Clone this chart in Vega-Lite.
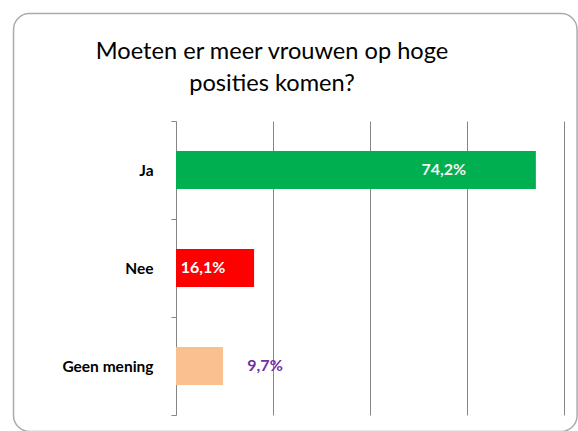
{
  "$schema": "https://vega.github.io/schema/vega-lite/v6.json",
  "width": 388,
  "height": 294,
  "autosize": {"type": "none"},
  "padding": {"left": 176, "top": 121, "right": 14, "bottom": 16},
  "background": "white",
  "config": {
    "view": {"stroke": null},
    "font": "Lato"
  },
  "title": {
    "text": ["Moeten er meer vrouwen op hoge", "posities komen?"],
    "anchor": "middle",
    "frame": "group",
    "offset": -83,
    "dx": -98,
    "font": "Lato",
    "fontSize": 23.6,
    "fontWeight": "normal",
    "lineHeight": 32,
    "color": "#000000"
  },
  "layer": [
    {
      "data": {
        "values": [
          {"antwoord": "Ja", "pct": 74.2, "label": "74,2%"},
          {"antwoord": "Nee", "pct": 16.1, "label": "16,1%"},
          {"antwoord": "Geen mening", "pct": 9.7, "label": "9,7%"}
        ]
      },
      "encoding": {
        "y": {
          "field": "antwoord", "type": "nominal",
          "sort": ["Ja", "Nee", "Geen mening"],
          "scale": {"paddingInner": 0, "paddingOuter": 0},
          "axis": {
            "title": null,
            "tickBand": "extent",
            "domainColor": "#868686",
            "tickColor": "#868686",
            "tickSize": 5,
            "labelPadding": 18,
            "labelFont": "Lato",
            "labelFontSize": 15.5,
            "labelFontWeight": "bold",
            "labelColor": "#000000",
            "grid": false
          }
        },
        "x": {
          "field": "pct", "type": "quantitative",
          "scale": {"domain": [0, 80], "nice": false},
          "axis": {
            "title": null,
            "labels": false,
            "ticks": false,
            "domain": false,
            "values": [20, 40, 60, 80],
            "grid": true,
            "gridColor": "#868686",
            "gridWidth": 1
          }
        }
      },
      "layer": [
        {
          "mark": {"type": "bar", "height": {"band": 0.39}},
          "encoding": {
            "color": {
              "field": "antwoord", "type": "nominal",
              "scale": {"domain": ["Ja", "Nee", "Geen mening"], "range": ["#00B050", "#FF0000", "#FAC090"]},
              "legend": null
            }
          }
        },
        {
          "transform": [{"filter": "datum.antwoord === 'Ja'"}],
          "mark": {"type": "text", "align": "center", "baseline": "middle", "dx": -92, "fontSize": 16, "fontWeight": "bold", "color": "#F2F2F2", "font": "Lato"},
          "encoding": {"text": {"field": "label"}}
        },
        {
          "transform": [{"filter": "datum.antwoord === 'Nee'"}],
          "mark": {"type": "text", "align": "center", "baseline": "middle", "dx": -51, "fontSize": 16, "fontWeight": "bold", "color": "#FFFFFF", "font": "Lato"},
          "encoding": {"text": {"field": "label"}}
        },
        {
          "transform": [{"filter": "datum.antwoord === 'Geen mening'"}],
          "mark": {"type": "text", "align": "center", "baseline": "middle", "dx": 42, "fontSize": 16, "fontWeight": "bold", "color": "#7030A0", "font": "Lato"},
          "encoding": {"text": {"field": "label"}}
        }
      ]
    },
    {
      "data": {"values": [{"frame": "kader"}]},
      "mark": {"type": "rect", "fill": null, "fillOpacity": 0, "stroke": "#ABABAB", "strokeWidth": 1.5, "cornerRadius": 16, "clip": false},
      "encoding": {
        "x": {"datum": -33.5, "type": "quantitative"},
        "x2": {"datum": 82.7},
        "y": {"datum": 1.3656, "type": "quantitative", "scale": {"domain": [0, 1], "nice": false, "zero": false}, "axis": null},
        "y2": {"datum": -0.056}
      }
    }
  ],
  "resolve": {"scale": {"y": "independent"}, "axis": {"y": "independent"}}
}
